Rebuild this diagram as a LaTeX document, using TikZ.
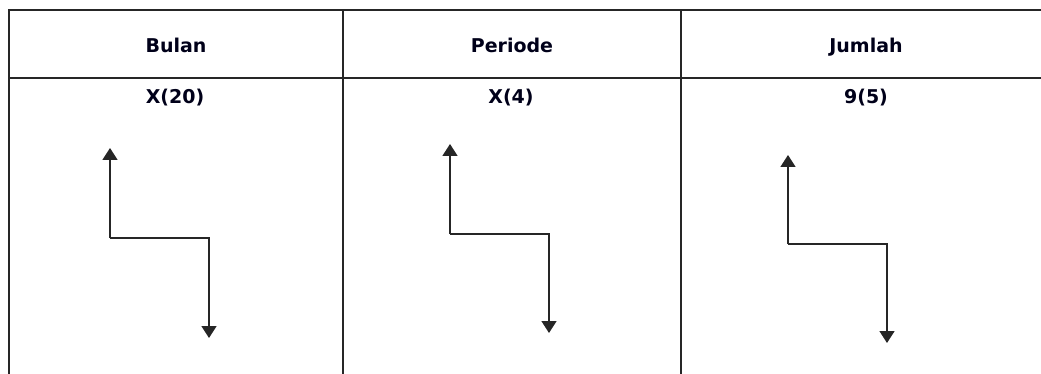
\documentclass[tikz,border=0pt]{standalone}
\usepackage{fontspec}
\setmainfont{DejaVu Sans}
\usetikzlibrary{arrows.meta}
\begin{document}
\begin{tikzpicture}[x=1pt,y=-1pt,
  grid/.style={line width=2pt,draw=black!85},
  hdr/.style={font=\fontsize{19}{22}\selectfont\bfseries,text=black!90!blue,inner sep=0pt,anchor=base},
  zarrow/.style={line width=1.6pt,draw=black!85,-{Triangle[width=15pt,length=12pt]}}]
\useasboundingbox (0,0) rectangle (1041,374);
% table lines
\draw[grid] (1060,10) -- (8.5,10) -- (8.5,380);
\draw[grid] (8.5,78) -- (1060,78);
\draw[grid] (343,10) -- (343,380);
\draw[grid] (681,10) -- (681,380);
% header texts
\node[hdr] (h1) at (176,53) {Bulan};
\node[hdr] (h2) at (512,53) {Periode};
\node[hdr] (h3) at (866,53) {Jumlah};
\node[hdr] (v1) at (175,104) {X(20)};
\node[hdr] (v2) at (511,104) {X(4)};
\node[hdr] (v3) at (866,104) {9(5)};
% arrows
\coordinate (a1s) at (110,238); \coordinate (a1t) at (110,148);
\coordinate (a1c) at (209,238); \coordinate (a1e) at (209,338);
\draw[zarrow] (a1s) -- (a1t);
\draw[zarrow] (a1s) -- (a1c) -- (a1e);
\coordinate (a2s) at (450,234); \coordinate (a2t) at (450,144);
\coordinate (a2c) at (549,234); \coordinate (a2e) at (549,333);
\draw[zarrow] (a2s) -- (a2t);
\draw[zarrow] (a2s) -- (a2c) -- (a2e);
\coordinate (a3s) at (788,244); \coordinate (a3t) at (788,155);
\coordinate (a3c) at (887,244); \coordinate (a3e) at (887,343);
\draw[zarrow] (a3s) -- (a3t);
\draw[zarrow] (a3s) -- (a3c) -- (a3e);
\end{tikzpicture}
\end{document}
